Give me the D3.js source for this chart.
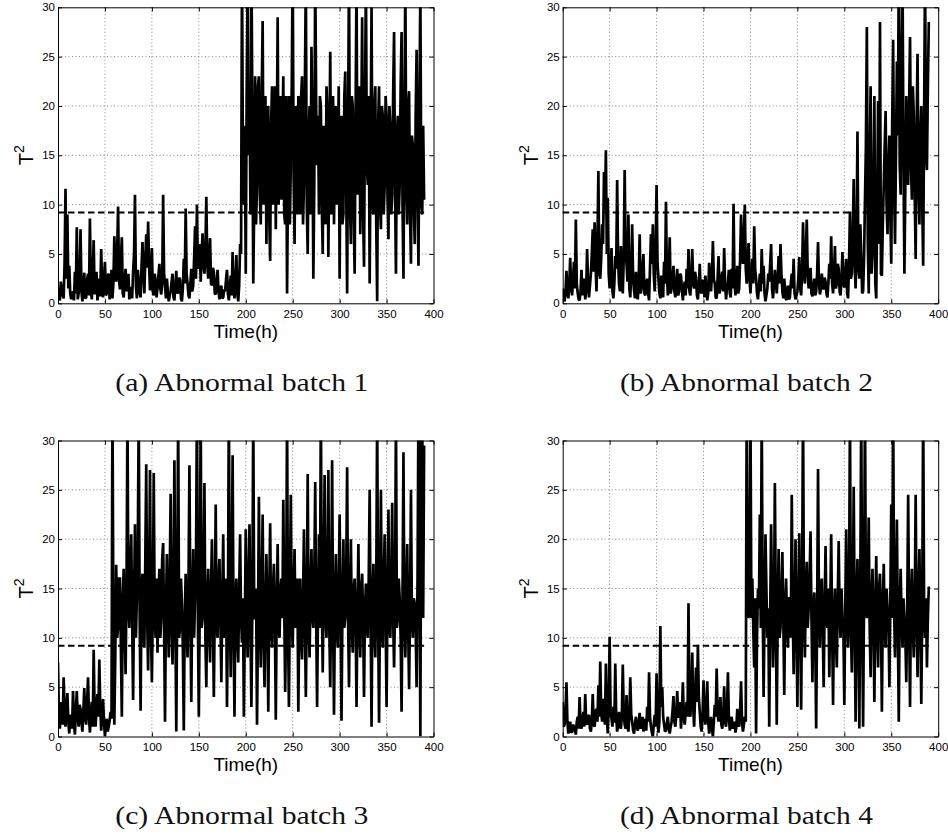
<!DOCTYPE html>
<html>
<head>
<meta charset="utf-8">
<script src="https://cdn.jsdelivr.net/npm/d3@7"></script>
<style>
    body { margin: 0; background: #fff; }
    .axis text { font-family: "Liberation Sans", Arial, sans-serif; font-size: 11.5px; fill: #000; }
    .axis path, .axis line { stroke: #000; stroke-width: 1; }
</style>
</head>
<body>
<div id="chart"></div>
<script>
//one sample per hour (10 per row)
let step = 1;
let threshold = 9.2;
let xTicks = [0, 50, 100, 150, 200, 250, 300, 350, 400];
let yTicks = [0, 5, 10, 15, 20, 25, 30];
let captions = ["(a) Abnormal batch 1", "(b) Abnormal batch 2", "(c) Abnormal batch 3", "(d) Abnormal batch 4"];

let batch1 = [
    1.5,0.6,0.3,2.2,1.4,0.8,0.5,4.0,11.6,2.5,
    9.0,1.5,3.8,1.0,0.4,0.9,1.2,0.3,3.2,1.0,
    7.7,0.4,1.0,2.6,7.5,1.2,0.2,1.8,3.1,0.5,
    0.6,2.4,3.0,0.8,8.6,1.5,0.4,2.8,6.4,0.9,
    1.8,3.2,0.3,1.2,2.5,0.7,5.5,1.4,0.6,2.6,
    4.2,0.8,1.0,2.8,3.0,0.4,1.6,3.4,0.5,2.0,
    6.8,3.5,2.2,5.0,9.8,2.4,1.4,4.4,6.7,1.0,
    0.6,2.5,3.5,1.2,2.0,3.0,0.4,1.6,1.5,0.5,
    3.2,5.0,11.0,1.8,0.5,3.4,2.2,1.0,0.6,3.8,
    6.2,2.8,1.0,4.5,7.0,3.6,8.3,4.0,1.3,2.6,
    5.6,1.2,0.8,3.0,2.3,0.6,1.5,2.8,4.0,1.5,
    0.9,2.0,11.0,3.0,1.8,0.5,2.5,1.2,0.2,0.8,
    1.2,2.2,3.0,0.6,0.3,1.8,3.3,1.0,1.1,2.6,
    2.4,0.5,0.2,1.5,4.5,2.0,9.6,3.0,2.0,0.8,
    0.5,2.0,3.5,1.2,1.8,4.5,7.8,2.5,10.0,3.5,
    4.4,6.0,2.2,5.0,7.1,3.8,3.0,5.2,10.8,4.0,
    2.5,4.6,6.6,2.0,1.8,3.6,3.2,1.0,0.9,2.2,
    3.4,1.2,0.4,1.5,1.8,0.5,0.6,1.4,1.2,2.4,
    3.4,1.0,0.3,1.6,2.8,0.8,5.2,1.5,0.5,2.0,
    4.9,1.0,0.2,1.8,6.0,5.0,34,14,10,18,
    3,21,33,15,22,9,35,20,2,10,
    23,8,12,22,23,11,8,21,28.6,10,
    14,21,6,17,20,9,4.3,18,22,10,
    12,22,7.5,16,29,10,18,21,10.5,17,
    23,9,8,21,1,12,21,8,14,22,
    35,13,6,20,18,9,21,17,9,21,
    23,8,12,22,33,10,5,17,20,9,
    26,18,2.5,12,34,20,14,19,9,21,
    20,10,5,18,16,8,22,19,4.7,15,
    25.5,9,13,21,8,17,20,10,12,22,
    2.5,18,19,8,9,21,23.5,12,1,18,
    34,10,6,21,20,9,3,19,33,11,
    15,22,7,17,29,9,3.7,20,33,14,
    12,21,2,16,30,10,9,20,22,8,
    0.2,18,22,10,7.5,20,19,9,12,21,
    19,11,6.5,20,18,9,11,21,27.5,12,
    3,17,19,9,12,22,27.5,10,2.5,18,
    33,12,8,20,21.5,9,4,17,16,10,
    6,19,25.7,11,3.8,20,32,10,9,18,
    10.5
];

let batch2 = [
    1.5,0.5,0.2,1.2,3.3,1.0,0.5,2.0,4.6,1.5,
    0.8,2.4,4.2,1.5,8.5,2.0,1.0,0.4,0.3,1.2,
    3.4,0.8,1.8,2.5,0.4,1.2,5.5,2.2,0.6,1.8,
    3.0,5.0,7.5,3.2,8.2,4.0,1.2,6.0,13.4,3.0,
    2.5,4.5,8.0,6.0,13.3,9.5,15.5,5.0,10.7,3.0,
    1.5,3.4,5.6,1.2,0.5,2.0,4.8,3.5,12.5,4.4,
    2.0,1.2,5.8,3.0,1.0,4.5,13.5,5.5,4.0,2.2,
    9.0,1.5,0.6,3.2,8.0,2.5,1.3,0.5,3.2,1.8,
    0.4,2.5,7.0,1.0,1.5,3.5,5.0,1.0,0.8,2.0,
    2.5,1.0,0.3,3.6,7.0,4.0,8.0,3.0,1.2,5.5,
    12.0,4.2,2.5,1.0,0.5,2.8,1.8,0.6,4.2,2.0,
    10.3,3.0,0.8,2.4,6.7,1.0,1.5,2.6,3.8,1.2,
    0.6,2.0,3.5,0.8,1.2,3.0,2.8,1.4,0.3,1.6,
    2.2,0.8,3.5,1.5,5.5,1.2,0.8,2.8,5.5,2.0,
    1.5,3.2,2.6,0.8,0.4,1.8,4.0,1.2,1.0,2.4,
    2.0,0.6,2.8,1.4,0.3,1.0,4.1,2.2,1.2,3.0,
    6.3,2.4,2.0,0.6,0.5,2.5,4.8,1.0,1.5,2.6,
    3.2,1.2,5.6,2.0,0.4,1.5,2.0,3.4,1.0,0.6,
    3.5,1.5,10.1,2.2,0.8,2.0,3.8,1.0,1.5,4.5,
    9.0,5.0,4.0,7.0,10.0,3.5,2.0,4.0,6.1,2.5,
    1.0,3.0,4.5,2.0,7.8,3.5,2.5,1.0,0.4,1.6,
    3.0,1.2,5.5,2.0,3.8,1.0,0.2,0.8,1.5,3.0,
    2.2,4.0,6.0,1.5,0.5,1.8,3.4,2.2,1.0,2.5,
    4.8,2.0,6.0,3.0,1.2,0.5,2.5,1.4,0.3,0.9,
    1.8,0.4,0.6,2.0,3.0,1.5,4.5,1.0,0.4,0.8,
    1.2,2.5,4.7,1.5,0.8,3.0,8.2,3.5,2.0,5.0,
    8.5,3.0,1.5,2.4,3.6,1.0,0.7,1.6,2.5,0.8,
    1.2,3.0,6.2,2.0,0.9,1.5,3.0,1.8,1.4,2.6,
    2.2,1.0,0.6,2.0,4.0,2.5,6.8,2.0,1.0,3.0,
    5.8,1.5,2.0,4.0,3.5,1.2,0.8,2.5,5.2,2.0,
    1.6,3.0,4.5,1.0,0.5,4.0,9.3,2.5,3.0,7.0,
    12.6,4.0,1.5,6.0,17.4,3.5,2.5,8.0,5.0,1.0,
    1.2,4.5,10.5,16.0,28.0,6.0,1.0,14.0,22.0,3.0,
    5.0,12.0,21.0,2.0,0.5,10.0,20.5,6.0,28.5,3.0,
    2.8,8.0,12.0,16.0,19.5,10.0,7.0,14.0,17.0,9.0,
    4.0,18.0,26.7,12.0,6.0,15.0,24.5,17.0,34,14,
    11,25,33,15,3.0,12.0,21.0,16.0,12.0,20.0,
    27.0,14.0,10.5,22.0,19.0,11.0,4.5,18.0,25.3,12.0,
    8.0,17.0,20.0,10.0,3.8,19.0,34,15.0,13.5,22.0,
    28.5
];

let batch3 = [
    7.5,2.0,0.8,3.5,2.6,1.2,6.0,2.5,1.0,3.0,
    4.4,1.5,0.3,2.2,2.0,0.8,4.6,1.5,0.2,2.5,
    4.6,2.0,1.0,3.2,2.8,1.4,0.5,2.6,4.9,1.8,
    1.2,3.5,6.0,2.0,0.4,2.4,3.5,1.0,8.8,2.5,
    1.0,3.0,4.3,2.0,7.8,3.2,0.6,2.2,3.8,1.5,
    0.0,1.2,1.8,0.5,1.0,1.6,2.5,1.8,34,12,
    1.2,8,17.4,10,11,16,16,9,2,14,
    17,11,6.3,15,33,13,11,17,20.5,12,
    3.7,14,21.5,10,14,19,33,12,2.6,15,
    16.5,10,9,18,27.6,12,6.7,15,27,11,
    5.5,13,26.7,12,10,16,8.5,14,17,10,
    12,18,19.6,11,1.5,13,18.5,12,8,16,
    24.6,11,7.3,15,28,12,0.5,14,33,10,
    11,16,13.5,9,0.6,12,16.5,11,8,15,
    27.5,12,3.5,14,19,10,14,17,34,12,
    2,13,33,11,12,16,25.7,10,5,14,
    17,11,7.5,15,20,12,4,13,23.5,11,
    10,16,18,12,5.5,14,20.5,10,13,16,
    3,12,34,13,6,15,28.5,11,2,14,
    16,10,7.5,15,20.5,12,9.5,14,2,11,
    21,13,8,16,21.5,11,3,13,33,12,
    12,15,1.2,11,24.3,13,7,14,22.5,10,
    5,13,18.5,12,2.5,14,21.6,11,9,15,
    17.5,12,1.7,13,19.5,11,10,15,16,12,
    24,13,4.5,12,33,11,3,14,24.5,12,
    9,15,19,11,13,16,2.5,12,16,10,
    7.8,14,21,12,4,13,26.6,11,8,15,
    19,12,11,16,25.8,12,3,13,20.5,11,
    34,14,6.5,15,26.5,12,10,16,27,11,
    5,14,28,12,2.2,13,18.5,11,9,15,
    22.5,12,1.6,13,20,11,12,16,27.3,12,
    5,14,20,11,8.5,15,16,12,3,13,
    19.5,11,8,15,16.5,12,4,13,15.5,11,
    10,16,25,12,1,14,17.5,11,8,15,
    33,12,1.4,13,25,11,9,16,20.5,12,
    3,14,23,11,10,15,23.7,12,7,13,
    33,11,12,16,14,10,2.5,14,28.8,12,
    8,15,19.5,11,4.8,13,25,12,10,14,
    13.5,11,5,16,34,20,0,30,34,12,
    29.5
];

let batch4 = [
    3.5,1.0,1.2,2.5,5.5,1.5,0.3,0.8,1.5,0.4,
    0.5,1.2,1.0,0.6,0.2,1.5,2.0,0.8,4.0,1.2,
    0.8,1.5,2.5,1.0,4.3,1.4,1.2,2.0,2.2,0.8,
    0.5,1.5,4.3,1.2,1.0,2.5,2.8,1.5,5.2,2.0,
    7.6,2.5,1.5,3.8,3.5,1.2,7.4,2.0,0.3,3.0,
    10.1,2.5,1.8,1.0,3.0,1.4,7.4,2.0,0.5,1.2,
    2.5,1.0,0.8,2.0,7.3,2.5,1.2,0.8,4.2,1.0,
    0.5,2.0,6.0,2.2,1.5,0.6,0.3,1.2,2.0,1.0,
    0.6,1.4,2.4,0.8,1.2,2.0,0.5,1.0,1.8,0.6,
    3.0,1.5,6.5,2.0,1.0,0.4,0.0,1.2,2.2,1.0,
    6.4,2.0,0.4,1.5,11.2,3.0,5.0,2.0,1.2,0.5,
    0.6,1.4,2.0,0.8,0.3,1.0,1.5,2.6,4.1,1.5,
    1.0,2.2,4.6,2.0,2.0,3.5,0.8,2.4,5.5,2.0,
    1.2,2.5,3.5,2.0,13.5,3.0,2.0,4.5,8.5,3.0,
    1.0,4.0,7.0,3.5,9.3,4.0,2.5,1.0,0.5,2.2,
    5.7,2.0,1.2,3.0,5.6,1.5,0.3,1.0,2.0,0.8,
    0.0,1.5,3.2,2.0,6.9,2.5,1.5,2.8,4.0,1.2,
    0.8,2.0,5.1,1.5,1.0,2.4,6.5,2.0,0.6,1.2,
    2.0,0.8,1.2,1.5,0.4,1.0,2.8,1.4,1.0,2.5,
    5.6,1.5,0.5,1.2,2.0,1.5,34,16,12,14,
    33,12,16,11,7,14,0.3,10,15,13,
    22.5,11,33,14,4,12,20.5,15,10,13,
    1,12,21.5,14,7,11,25.7,13,1.2,12,
    19,10,11,15,18.7,12,4.2,13,16,11,
    9,14,14,10,24.5,13,6.3,12,20,11,
    3,13,20.6,12,2.7,14,34,12,8,15,
    17.7,11,13,16,20.8,12,5.5,13,14.6,10,
    0.8,12,27.1,13,9,15,16,11,5,13,
    19.3,12,11,15,6,13,20.5,11,3.2,12,
    15,10,7,14,19.8,12,10,15,12,11,
    3.2,13,21,12,9,14,33,11,6.5,13,
    25.3,12,1.5,14,18,10,0.8,15,33,12,
    1,14,34,13,12,15,22.2,11,6,14,
    17,12,3.5,13,18.3,11,7,15,16.5,12,
    2.5,13,17.5,11,9,15,13,12,5,14,
    23.5,12,34,13,8,15,22,11,1.5,13,
    17,12,9,14,12,10,5.5,13,24.5,12,
    3,14,17,11,8,13,24.5,12,6,14,
    19,11,3.3,13,34,12,10,14,7,12,
    15.2
];

let width = 948;
let height = 839;
let plotW = 375.5;
let plotH = 296;
let tickLen = 4;

let panels = [
    {data: batch1, caption: captions[0], left: 58,    top: 7.3},
    {data: batch2, caption: captions[1], left: 562.7, top: 7.3},
    {data: batch3, caption: captions[2], left: 58,    top: 440.5},
    {data: batch4, caption: captions[3], left: 562.7, top: 440.5}
];

let svg = d3.select("#chart")
    .append("svg")
    .attr("width", width)
    .attr("height", height);

panels.forEach((p, i) => {
    let xScale = d3.scaleLinear()
                        .domain([0, 400])
                        .range([0, plotW]);
    let yScale = d3.scaleLinear()
                        .domain([0, 30])
                        .range([plotH, 0]);

    let g = svg.append("g")
                .attr("transform", `translate(${p.left}, ${p.top})`);

    g.append("clipPath")
        .attr("id", "clip" + i)
        .append("rect")
        .attr("width", plotW)
        .attr("height", plotH);

    // dotted grid
    g.append("g")
        .selectAll("line")
        .data(xTicks.slice(1, -1))
        .join("line")
        .attr("x1", (d) => xScale(d))
        .attr("x2", (d) => xScale(d))
        .attr("y1", 0)
        .attr("y2", plotH)
        .attr("stroke", "#888")
        .attr("stroke-width", 1)
        .attr("stroke-dasharray", "1,2.5");

    g.append("g")
        .selectAll("line")
        .data(yTicks.slice(1, -1))
        .join("line")
        .attr("x1", 0)
        .attr("x2", plotW)
        .attr("y1", (d) => yScale(d))
        .attr("y2", (d) => yScale(d))
        .attr("stroke", "#888")
        .attr("stroke-width", 1)
        .attr("stroke-dasharray", "1,2.5");

    let lineGenerator = d3.line()
                            .x((d, j) => xScale(j * step))
                            .y((d) => yScale(d));

    g.append("path")
        .datum(p.data)
        .attr("clip-path", `url(#clip${i})`)
        .attr("fill", "none")
        .attr("stroke", "#000")
        .attr("stroke-width", 2.7)
        .attr("stroke-linejoin", "miter")
        .attr("stroke-miterlimit", 2)
        .attr("d", lineGenerator);

    // control limit
    g.append("line")
        .attr("x1", xScale(0))
        .attr("x2", xScale((p.data.length - 1) * step))
        .attr("y1", yScale(threshold))
        .attr("y2", yScale(threshold))
        .attr("stroke", "#000")
        .attr("stroke-width", 2)
        .attr("stroke-dasharray", "6.5,3.5");

    // box with inward ticks
    g.append("g")
        .attr("class", "axis")
        .attr("transform", `translate(0, ${plotH})`)
        .call(d3.axisBottom(xScale).tickValues(xTicks).tickSizeInner(-tickLen).tickSizeOuter(0).tickPadding(6.5));
    g.append("g")
        .attr("class", "axis")
        .call(d3.axisTop(xScale).tickValues(xTicks).tickSizeInner(-tickLen).tickSizeOuter(0).tickFormat(""));
    g.append("g")
        .attr("class", "axis")
        .call(d3.axisLeft(yScale).tickValues(yTicks).tickSizeInner(-tickLen).tickSizeOuter(0).tickPadding(3));
    g.append("g")
        .attr("class", "axis")
        .attr("transform", `translate(${plotW}, 0)`)
        .call(d3.axisRight(yScale).tickValues(yTicks).tickSizeInner(-tickLen).tickSizeOuter(0).tickFormat(""));

    // y label T^2
    let yLabel = g.append("text")
        .attr("transform", `translate(-25, ${plotH / 2}) rotate(-90)`)
        .attr("text-anchor", "middle")
        .attr("font-family", "Liberation Sans, Arial, sans-serif")
        .attr("font-size", 20)
        .text("T");
    yLabel.append("tspan")
        .attr("font-size", 14)
        .attr("dy", -9)
        .text("2");

    g.append("text")
        .attr("x", plotW / 2)
        .attr("y", plotH + 34.5)
        .attr("text-anchor", "middle")
        .attr("font-family", "Liberation Sans, Arial, sans-serif")
        .attr("font-size", 19)
        .text("Time(h)");

    g.append("text")
        .attr("x", plotW / 2 - 4)
        .attr("y", plotH + 87.5)
        .attr("text-anchor", "middle")
        .attr("font-family", "Liberation Serif, Times New Roman, serif")
        .attr("font-size", 26)
        .attr("fill", "#111")
        .attr("textLength", 253)
        .attr("lengthAdjust", "spacingAndGlyphs")
        .text(p.caption);
});
</script>
</body>
</html>
